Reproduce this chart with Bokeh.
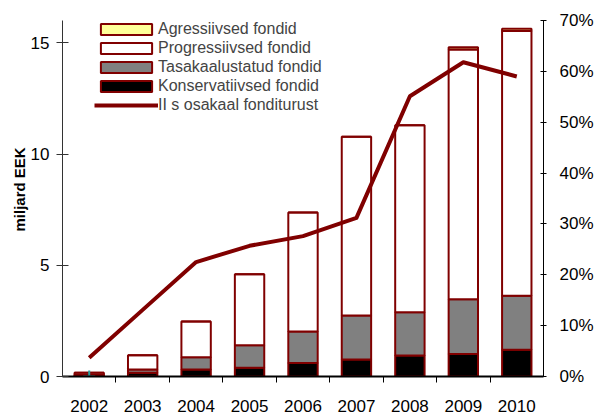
from bokeh.plotting import figure
from bokeh.models import Range1d, LinearAxis, FixedTicker, PrintfTickFormatter, Legend, LegendItem, Title
from bokeh.embed import file_html
from bokeh.resources import INLINE

years = [2002, 2003, 2004, 2005, 2006, 2007, 2008, 2009, 2010]
year_labels = ["2002", "2003", "2004", "2005", "2006", "2007", "2008", "2009", "2010"]
konservatiivsed = [0.03, 0.17, 0.31, 0.39, 0.61, 0.76, 0.94, 1.01, 1.20]
tasakaalustatud = [0.04, 0.14, 0.55, 1.01, 1.41, 1.98, 1.95, 2.46, 2.43]
progressiivsed = [0.10, 0.64, 1.61, 3.20, 5.35, 8.03, 8.40, 11.23, 11.90]
agressiivsed = [0.0, 0.0, 0.0, 0.0, 0.0, 0.0, 0.0, 0.10, 0.10]
osakaal_pct = [3.7, 13.1, 22.5, 25.7, 27.6, 31.2, 55.1, 61.8, 59.0]
marker_year = [2002]
marker_value = [0.0]

left_ticks = [0, 5, 10, 15]
right_ticks = [0, 10, 20, 30, 40, 50, 60, 70]

DARK_RED = "#800000"
FONT = "Liberation Sans"

p = figure(width=598, height=414, output_backend="svg", toolbar_location=None,
           x_range=Range1d(2001.5, 2010.5), y_range=Range1d(0, 16),
           min_border_left=62, min_border_right=55, min_border_top=20, min_border_bottom=37)
p.outline_line_color = None
p.grid.visible = False
p.extra_y_ranges = {"pct": Range1d(0, 70)}

data = dict(year=years, kons=konservatiivsed, tasa=tasakaalustatud,
            prog=progressiivsed, aggr=agressiivsed)
rs = p.vbar_stack(["kons", "tasa", "prog", "aggr"], x="year", width=0.55, source=data,
                  fill_color=["#000000", "#808080", "#ffffff", "#ffff99"],
                  line_color=DARK_RED, line_width=2)
r_kons, r_tasa, r_prog, r_aggr = rs

r_line = p.line(years, osakaal_pct, y_range_name="pct", line_color=DARK_RED,
                line_width=4, line_join="round")
p.scatter(marker_year, marker_value, marker="cross", size=12, line_color="#2a9d9d", line_width=2)

# x axis
xa = p.xaxis[0]
xa.ticker = FixedTicker(ticks=years, minor_ticks=[y + 0.5 for y in years[:-1]])
xa.major_label_overrides = {y: l for y, l in zip(years, year_labels)}
xa.major_tick_in = 0
xa.major_tick_out = 0
xa.minor_tick_in = 0
xa.minor_tick_out = 6
xa.minor_tick_line_color = "#000000"
xa.axis_line_color = "#000000"
xa.axis_line_width = 2
xa.major_label_standoff = 17
xa.major_label_text_font = FONT
xa.major_label_text_font_size = "17px"
xa.major_label_text_color = "#000000"

# left axis
ya = p.yaxis[0]
ya.ticker = FixedTicker(ticks=left_ticks)
ya.major_tick_in = 6
ya.major_tick_out = 6
ya.minor_tick_in = 0
ya.minor_tick_out = 0
ya.axis_line_color = "#333333"
ya.major_tick_line_color = "#333333"
ya.major_label_standoff = 7
ya.major_label_text_font = FONT
ya.major_label_text_font_size = "17px"
ya.major_label_text_color = "#000000"

ytitle = Title(text="miljard EEK", text_font=FONT, text_font_style="bold",
               text_font_size="15px", text_color="#000000", align="left",
               offset=145, standoff=0)
p.add_layout(ytitle, "left")

# right axis
ra = LinearAxis(y_range_name="pct", ticker=FixedTicker(ticks=right_ticks),
                formatter=PrintfTickFormatter(format="%d%%"))
ra.major_tick_in = 3
ra.major_tick_out = 3
ra.minor_tick_in = 0
ra.minor_tick_out = 0
ra.axis_line_color = "#000000"
ra.major_label_standoff = 13
ra.major_label_text_font = FONT
ra.major_label_text_font_size = "17px"
ra.major_label_text_color = "#000000"
p.add_layout(ra, "right")

legend = Legend(items=[
    LegendItem(label="Agressiivsed fondid", renderers=[r_aggr]),
    LegendItem(label="Progressiivsed fondid", renderers=[r_prog]),
    LegendItem(label="Tasakaalustatud fondid", renderers=[r_tasa]),
    LegendItem(label="Konservatiivsed fondid", renderers=[r_kons]),
    LegendItem(label="II s osakaal fonditurust", renderers=[r_line]),
], location=(32, 262), orientation="vertical", border_line_color=None,
   background_fill_alpha=0, label_text_font=FONT, label_text_font_size="16px",
   glyph_width=64, glyph_height=14, label_height=19, label_standoff=0,
   spacing=0, padding=0, margin=0)
p.add_layout(legend)

open("out.html", "w").write(file_html(p, INLINE))
